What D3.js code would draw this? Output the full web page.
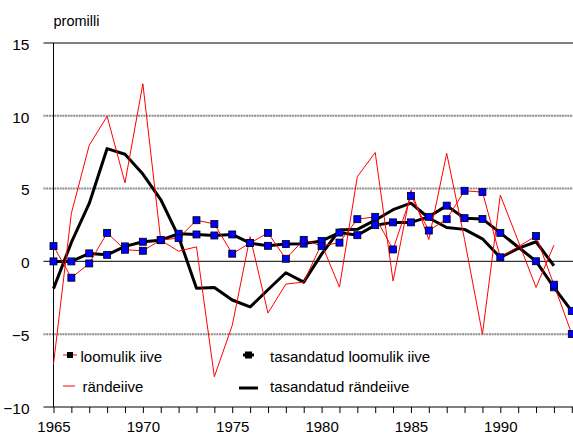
<!DOCTYPE html>
<html>
<head>
<meta charset="utf-8">
<script src="https://cdn.jsdelivr.net/npm/d3@7"></script>
<style>
  body { margin: 0; background: #fff; }
  svg text { font-family: "Liberation Sans", Arial, sans-serif; }
</style>
</head>
<body>
<div id="chart"></div>
<script>
// Years on the x axis
var years = d3.range(1965, 1995);

// loomulik iive (1991 missing in the source)
var loomulik = [1.05, -1.12, -0.14, 1.96, 0.8, 0.73, 1.46, 1.6, 2.83, 2.57,
  0.53, 1.26, 1.96, 0.18, 1.48, 1.06, 1.29, 2.9, 3.06, 0.82,
  4.5, 2.12, 2.9, 4.85, 4.76, 0.28, null, 1.74, -1.6, -4.99];
// tasandatud loomulik iive
var tasLoomulik = [0, 0, 0.55, 0.45, 1.03, 1.35, 1.46, 1.9, 1.85, 1.78,
  1.85, 1.26, 1.07, 1.19, 1.22, 1.41, 1.98, 1.8, 2.49, 2.68,
  2.68, 3.06, 3.83, 2.97, 2.92, 1.96, null, 0.01, -1.78, -3.41];
// rändeiive
var rande = [-7.05, 3.3, 7.98, 9.97, 5.4, 12.2, 1.46, 0.7, 1.0, -7.92,
  -4.4, 1.7, -3.55, -1.56, -1.42, 1.2, -1.77, 5.82, 7.48, -1.35,
  4.9, 1.5, 7.42, 1.5, -5.0, 4.55, 1.4, -1.79, 1.12, null];
// tasandatud rändeiive
var tasRande = [-1.87, 1.3, 3.98, 7.75, 7.36, 6.0, 4.25, 1.7, -1.85, -1.8,
  -2.65, -3.13, -1.95, -0.78, -1.42, 0.5, 2.15, 2.2, 2.83, 3.55,
  4.0, 2.98, 2.33, 2.2, 1.55, 0.27, 0.89, 1.35, -0.3, null];

var yTicks = [-10, -5, 0, 5, 10, 15];
var legendNames = ["loomulik iive", "rändeiive", "tasandatud loomulik iive", "tasandatud rändeiive"];

var W = 573, H = 435;
var x0 = 53.5, x1 = 571.8, yTop = 43, yBot = 407;

var svg = d3.select("#chart").append("svg")
    .attr("width", W).attr("height", H);

var x = d3.scaleLinear().domain([1965, 1994]).range([x0, x1]);
var y = d3.scaleLinear().domain([-10, 15]).range([yBot, yTop]);

// gridlines
svg.append("g").selectAll("line")
    .data(yTicks)
    .enter().append("line")
    .attr("x1", x0 - 10).attr("x2", W)
    .attr("y1", function(d) { return y(d); })
    .attr("y2", function(d) { return y(d); })
    .attr("stroke", function(d) { return d == 15 ? "#000" : (d == 0 ? "#333" : (d == -10 ? "#000" : "#8c8c8c")); })
    .attr("stroke-width", function(d) { return (d == 15 || d == -10) ? 1 : (d == 0 ? 1.3 : 2); })
    .attr("stroke-dasharray", function(d) { return (d == 5 || d == 10 || d == -5) ? "2,0.7" : null; });

// y axis
var yAxis = d3.axisLeft(y).tickValues(yTicks).tickSize(0).tickPadding(24);
var gy = svg.append("g").attr("transform", "translate(" + x0 + ",0)").call(yAxis);
gy.select(".domain").remove();
gy.selectAll("text").attr("font-size", 15.5).attr("fill", "#000").attr("dy", "0.4em");
svg.append("line").attr("x1", x0).attr("x2", x0).attr("y1", yTop).attr("y2", yBot)
    .attr("stroke", "#000").attr("stroke-width", 1);

// x axis
var xAxis = d3.axisBottom(x).tickValues(years).tickSize(6).tickPadding(8)
    .tickFormat(function(d) { return d % 5 == 0 ? d : ""; });
var gx = svg.append("g").attr("transform", "translate(0," + yBot + ")").call(xAxis);
gx.select(".domain").remove();
gx.selectAll("line").attr("stroke", "#000");
gx.selectAll("text").attr("font-size", 15).attr("fill", "#000");

svg.append("text").attr("x", 53.5).attr("y", 26).attr("font-size", 14.5).text("promilli");

function pts(arr) {
  return years.map(function(yr, i) { return {year: yr, v: arr[i]}; })
    .filter(function(d) { return d.v != null; });
}
var line = d3.line()
    .x(function(d) { return x(d.year); })
    .y(function(d) { return y(d.v); });

var plot = svg.append("g");

plot.append("path").datum(pts(tasRande)).attr("d", line)
    .attr("fill", "none").attr("stroke", "#000").attr("stroke-width", 3).attr("stroke-linejoin", "round");
plot.append("path").datum(pts(tasLoomulik)).attr("d", line)
    .attr("fill", "none").attr("stroke", "#000").attr("stroke-width", 3).attr("stroke-linejoin", "round");
plot.append("path").datum(pts(rande)).attr("d", line)
    .attr("fill", "none").attr("stroke", "#ff0000").attr("stroke-width", 1);
plot.append("path").datum(pts(loomulik)).attr("d", line)
    .attr("fill", "none").attr("stroke", "#ff0000").attr("stroke-width", 1);

// markers
var ms = 7;
[tasLoomulik, loomulik].forEach(function(arr) {
  plot.append("g").selectAll("rect")
    .data(pts(arr))
    .enter().append("rect")
    .attr("x", function(d) { return x(d.year) - ms / 2; })
    .attr("y", function(d) { return y(d.v) - ms / 2; })
    .attr("width", ms).attr("height", ms)
    .attr("fill", "#0000ff").attr("stroke", "#000").attr("stroke-width", 0.8);
});

// legend
var leg = svg.append("g");
leg.append("line").attr("x1", 63).attr("x2", 77).attr("y1", 355).attr("y2", 355)
    .attr("stroke", "#ff0000").attr("stroke-width", 1);
leg.append("rect").attr("x", 67).attr("y", 352).attr("width", 6).attr("height", 6).attr("fill", "#000");
leg.append("line").attr("x1", 63).attr("x2", 75).attr("y1", 386).attr("y2", 386)
    .attr("stroke", "#ff0000").attr("stroke-width", 1);
leg.append("line").attr("x1", 243).attr("x2", 254).attr("y1", 355).attr("y2", 355)
    .attr("stroke", "#000").attr("stroke-width", 3);
leg.append("rect").attr("x", 245).attr("y", 351.5).attr("width", 7).attr("height", 7).attr("fill", "#000");
leg.append("line").attr("x1", 239).attr("x2", 258).attr("y1", 388).attr("y2", 388)
    .attr("stroke", "#000").attr("stroke-width", 3);

var legPos = [[80.5, 362], [82.5, 392], [270, 362], [270, 392]];
leg.selectAll("text")
    .data(legendNames)
    .enter().append("text")
    .attr("x", function(d, i) { return legPos[i][0]; })
    .attr("y", function(d, i) { return legPos[i][1]; })
    .attr("font-size", 15)
    .text(function(d) { return d; });
</script>
</body>
</html>
